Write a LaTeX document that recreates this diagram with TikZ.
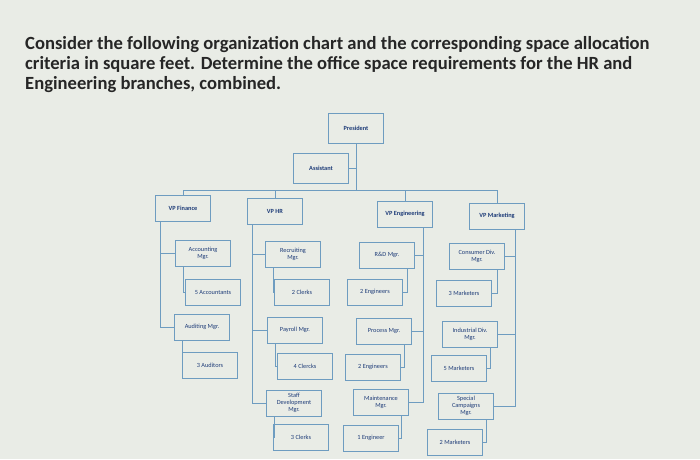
\documentclass[tikz,border=0pt]{standalone}
\usepackage{fontspec}
\setmainfont{Carlito}
\begin{document}
\begin{tikzpicture}[x=1pt,y=-1pt,
  box/.style={draw=boxc,line width=0.8pt,minimum width=55pt,minimum height=26pt,inner sep=1pt,align=center,font=\fontsize{6.3}{7}\selectfont,text=txtc},
  ln/.style={draw=boxc,line width=0.8pt}]
\definecolor{bg}{HTML}{E9ECE6}\definecolor{boxc}{HTML}{6E9CC0}\definecolor{txtc}{HTML}{1E3C78}
\fill[bg] (0,0) rectangle (700,459);
\useasboundingbox (0,0) rectangle (700,459);
\node[anchor=north west,align=left,font=\bfseries\fontsize{18.6}{20}\selectfont,text=black!85,inner sep=0] (t) at (25,36)
 {Consider the following organization chart and the corresponding space allocation\\criteria in square feet. Determine the office space requirements for the HR and\\Engineering branches, combined.};
\node[box,minimum height=30pt] (pres) at (356,128) {\textbf{President}};
\node[box,minimum height=30pt] (asst) at (321,168) {\textbf{Assistant}};
\node[box] (vpf) at (183,208) {\textbf{VP Finance}};
\node[box] (vph) at (275,211) {\textbf{VP HR}};
\node[box] (vpe) at (405,214) {\textbf{VP Engineering}};
\node[box] (vpm) at (497,216) {\textbf{VP Marketing}};
\node[box] (am) at (203,253) {Accounting\\Mgr.};
\node[box] (rm) at (293,254) {Recruiting\\Mgr.};
\node[box] (rdm) at (387,255) {R\&D Mgr.};
\node[box] (cm) at (477,256) {Consumer Div.\\Mgr.};
\node[box] (acc) at (213,292) {5 Accountants};
\node[box] (cl2) at (302,292) {2 Clerks};
\node[box] (en2) at (375,292) {2 Engineers};
\node[box] (mk3) at (464,293) {3 Marketers};
\node[box] (aum) at (202,327) {Auditing Mgr.};
\node[box] (pm) at (295,330) {Payroll Mgr.};
\node[box] (prm) at (384,331) {Process Mgr.};
\node[box] (im) at (470,334) {Industrial Div.\\Mgr.};
\node[box] (au3) at (210,365) {3 Auditors};
\node[box] (cl4) at (305,366) {4 Clercks};
\node[box] (en2b) at (373,367) {2 Engineers};
\node[box] (mk5) at (459,368) {5 Marketers};
\node[box] (sdm) at (294,403) {Staff\\Development\\Mgr.};
\node[box] (mm) at (381,402) {Maintenance\\Mgr.};
\node[box] (scm) at (466,406) {Special\\Campaigns\\Mgr.};
\node[box] (cl3) at (301,437) {3 Clerks};
\node[box] (en1) at (371,438) {1 Engineer};
\node[box] (mk2) at (455,442) {2 Marketers};
\coordinate (bus) at (338,190);
\draw[ln] (pres.south) |- (asst.east);
\draw[ln] (pres.south) -- (pres.south|-bus);
\draw[ln] (vpf.north) -- (vpf.north|-bus) -- (vpm.north|-bus) -- (vpm.north);
\draw[ln] (vph.north) -- (vph.north|-bus);
\draw[ln] (vpe.north) -- (vpe.north|-bus);
\draw[ln] ([xshift=5pt]vpf.south west) |- (aum.west);
\draw[ln] ([xshift=5pt]vpf.south west) |- (am.west);
\draw[ln] ([xshift=5pt]vph.south west) |- (sdm.west);
\draw[ln] ([xshift=5pt]vph.south west) |- (rm.west);
\draw[ln] ([xshift=5pt]vph.south west) |- (pm.west);
\draw[ln] ([xshift=-10pt]vpe.south east) |- (mm.east);
\draw[ln] ([xshift=-10pt]vpe.south east) |- (rdm.east);
\draw[ln] ([xshift=-10pt]vpe.south east) |- (prm.east);
\draw[ln] ([xshift=-10pt]vpm.south east) |- (scm.east);
\draw[ln] ([xshift=-10pt]vpm.south east) |- (cm.east);
\draw[ln] ([xshift=-10pt]vpm.south east) |- (im.east);
\draw[ln] ([xshift=8pt]am.south west) |- (acc.west);
\draw[ln] ([xshift=8pt]aum.south west) |- (au3.west);
\draw[ln] ([xshift=8pt]rm.south west) |- (cl2.west);
\draw[ln] ([xshift=8pt]pm.south west) |- (cl4.west);
\draw[ln] ([xshift=8pt]sdm.south west) |- (cl3.west);
\draw[ln] ([xshift=-8pt]rdm.south east) |- (en2.east);
\draw[ln] ([xshift=-8pt]prm.south east) |- (en2b.east);
\draw[ln] ([xshift=-8pt]mm.south east) |- (en1.east);
\draw[ln] ([xshift=-8pt]cm.south east) |- (mk3.east);
\draw[ln] ([xshift=-8pt]im.south east) |- (mk5.east);
\draw[ln] ([xshift=-8pt]scm.south east) |- (mk2.east);
\end{tikzpicture}
\end{document}
